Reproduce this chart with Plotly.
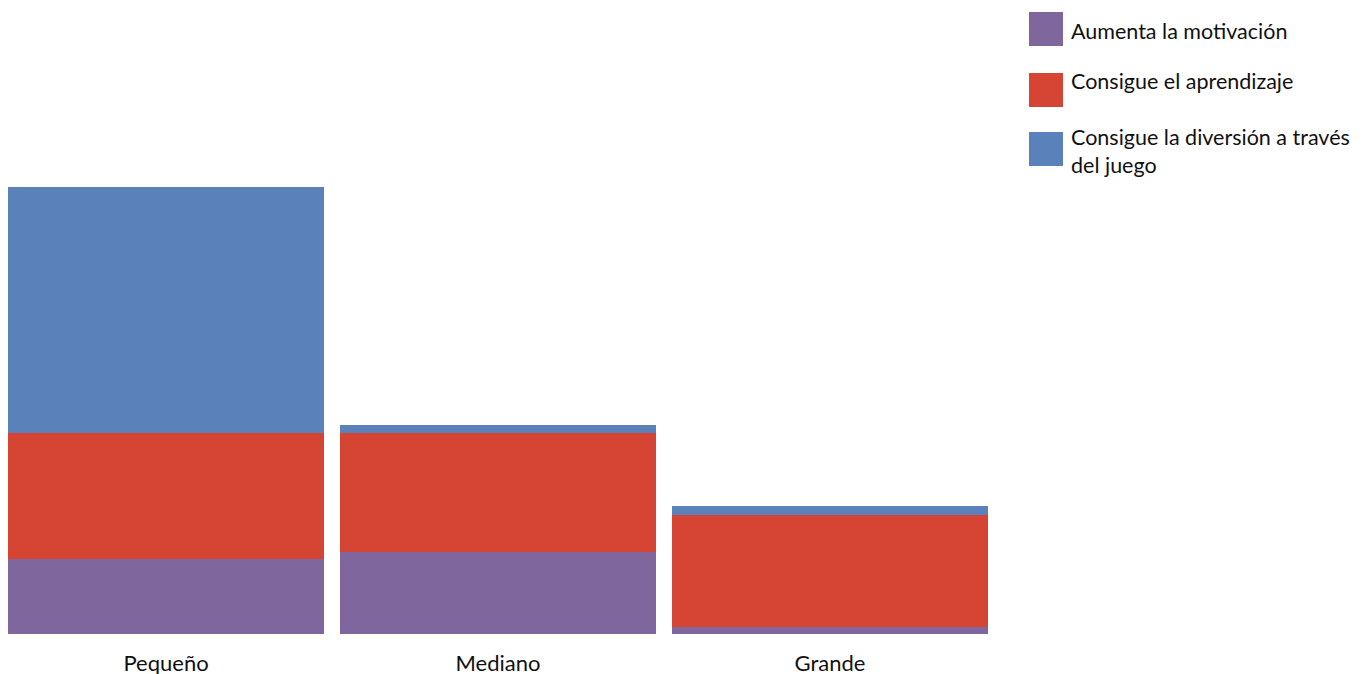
import plotly.graph_objects as go

categories = ["Pequeño", "Mediano", "Grande"]
series_names = ["Aumenta la motivación", "Consigue el aprendizaje", "Consigue la diversión a través<br>del juego"]
motivacion = [10, 11, 1]
aprendizaje = [17, 16, 15]
diversion = [33, 1, 1.2]
colors = ["#7f679e", "#d64534", "#5a81b9"]

W, H = 1362, 674
ML, MR, MT, MB = 0, 366, 0, 48
PW = W - ML - MR
PH = H - MT - MB

fig = go.Figure()
for name, vals, col in zip(series_names, [motivacion, aprendizaje, diversion], colors):
    fig.add_trace(go.Bar(x=categories, y=vals, name=name.replace("<br>", " "),
                         marker=dict(color=col, line=dict(width=0)), showlegend=False))

def px_x(p):
    return (p - ML) / PW

def px_y(p):
    return 1 - (p - MT) / PH

legend_boxes = [(4, 38), (65, 99), (124, 158)]
legend_text_y = [23, 73, 142.5]
for (y0, y1), col, name, ty in zip(legend_boxes, colors, series_names, legend_text_y):
    fig.add_shape(type="rect", xref="paper", yref="paper",
                  x0=px_x(1021), x1=px_x(1055), y0=px_y(y1), y1=px_y(y0),
                  fillcolor=col, line=dict(width=0))
    fig.add_annotation(xref="paper", yref="paper", x=px_x(1061), y=px_y(ty),
                       text=name, showarrow=False, xanchor="left", yanchor="middle",
                       align="left", font=dict(size=21.5, color="#111111", family="Lato"))

fig.update_layout(
    width=W, height=H,
    margin=dict(l=ML, r=MR, t=MT, b=MB),
    barmode="stack", bargap=0.048,
    plot_bgcolor="white", paper_bgcolor="white",
    font=dict(family="Lato", size=22, color="#111111"),
    xaxis=dict(showgrid=False, zeroline=False, showline=False, ticks="",
               range=[-0.476, 2.524], tickfont=dict(size=22), ticklabelstandoff=14),
    yaxis=dict(range=[0, 84.0], visible=False),
)
fig.write_html("out.html")
